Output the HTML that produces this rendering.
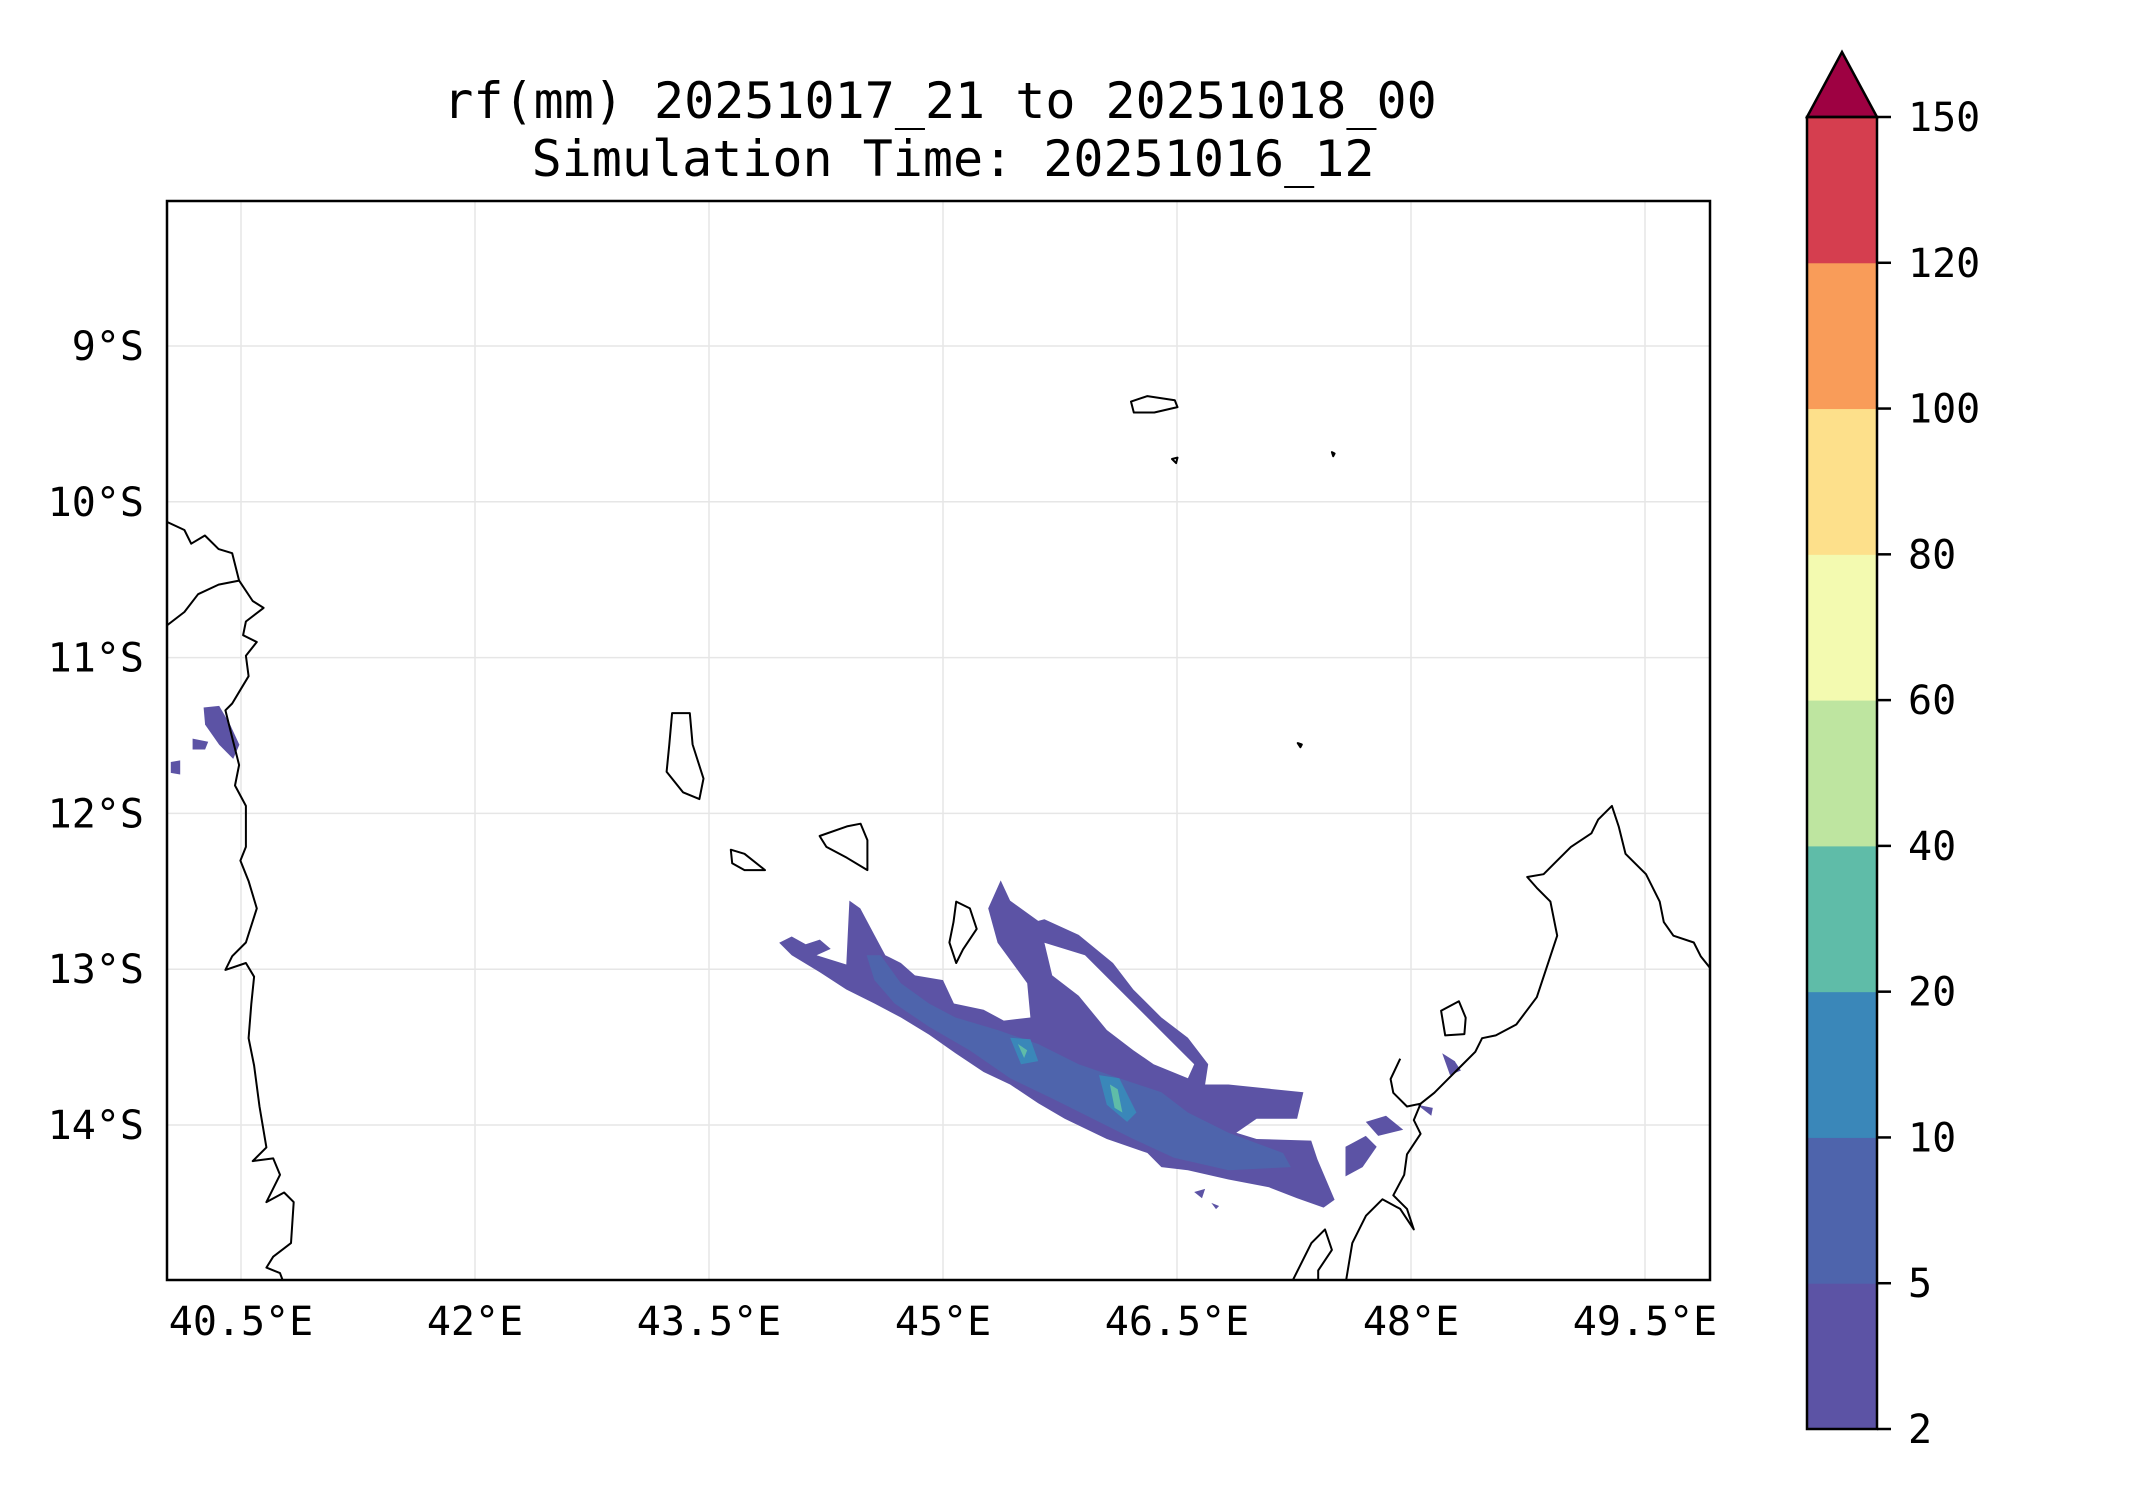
<!DOCTYPE html>
<html><head><meta charset="utf-8"><style>
html,body{margin:0;padding:0;background:#fff;}
svg{display:block;font-family:"DejaVu Sans Mono","Liberation Mono",monospace;}
</style></head><body>
<svg id="fig" width="2142" height="1500" viewBox="0 0 2142 1500" xmlns="http://www.w3.org/2000/svg">
<text x="940" y="118" font-size="50" text-anchor="middle">rf(mm) 20251017_21 to 20251018_00</text>
<text x="953" y="176" font-size="50" text-anchor="middle">Simulation Time: 20251016_12</text>
<defs><clipPath id="mapclip"><rect x="167" y="201" width="1543" height="1079"/></clipPath></defs>
<g id="grid"></g>
<g id="rain" clip-path="url(#mapclip)"></g>
<g id="coast" clip-path="url(#mapclip)"></g>
<rect x="167" y="201" width="1543" height="1079" fill="none" stroke="#000" stroke-width="2.5"/>
<g id="xt"></g>
<g id="yt"></g>
<g id="cbar"></g>
</svg>
<script>
const lonTicks=[40.5,42,43.5,45,46.5,48,49.5];
const lonLabels=["40.5°E","42°E","43.5°E","45°E","46.5°E","48°E","49.5°E"];
const latTicks=[9,10,11,12,13,14];
const latLabels=["9°S","10°S","11°S","12°S","13°S","14°S"];
const cbLevels=[2,5,10,20,40,60,80,100,120,150];
const cbColors=["#5c53a5","#4e64ac","#3a87b9","#5fbca8","#bee5a0","#f3fab0","#fde08b","#f99c59","#d53e4f"];
const overColor="#9e0142";
// rainfall contour polygons [lon, lat(°S)]
const rain5=[
[[43.95,12.83],[44.03,12.79],[44.12,12.84],[44.21,12.81],[44.28,12.87],[44.19,12.91],[44.38,12.97],[44.40,12.56],[44.47,12.61],[44.56,12.78],[44.63,12.91],[44.73,12.96],[44.82,13.04],[45.00,13.07],[45.07,13.22],[45.26,13.26],[45.39,13.33],[45.56,13.31],[45.54,13.09],[45.35,12.83],[45.29,12.61],[45.37,12.43],[45.43,12.56],[45.61,12.69],[45.65,12.68],[45.87,12.78],[46.09,12.96],[46.22,13.13],[46.40,13.31],[46.57,13.44],[46.70,13.61],[46.68,13.74],[46.83,13.74],[47.31,13.79],[47.27,13.96],[47.01,13.96],[46.88,14.05],[47.01,14.09],[47.36,14.10],[47.40,14.22],[47.51,14.48],[47.44,14.53],[47.27,14.47],[47.09,14.40],[46.83,14.35],[46.57,14.29],[46.40,14.27],[46.31,14.18],[46.05,14.09],[45.78,13.96],[45.61,13.86],[45.43,13.74],[45.26,13.66],[45.08,13.54],[44.91,13.42],[44.73,13.31],[44.56,13.22],[44.38,13.13],[44.21,13.02],[44.03,12.91]],
[[40.26,11.32],[40.36,11.31],[40.43,11.43],[40.49,11.56],[40.45,11.65],[40.36,11.56],[40.27,11.43]],
[[40.19,11.52],[40.29,11.54],[40.27,11.59],[40.19,11.59]],
[[40.05,11.67],[40.11,11.66],[40.11,11.75],[40.05,11.74]],
[[47.58,14.14],[47.71,14.07],[47.78,14.14],[47.69,14.27],[47.58,14.33]],
[[47.71,13.98],[47.84,13.94],[47.95,14.03],[47.79,14.07]],
[[48.20,13.54],[48.28,13.59],[48.32,13.65],[48.25,13.68]],
[[48.04,13.87],[48.14,13.89],[48.13,13.94]],
[[46.61,14.43],[46.68,14.41],[46.66,14.47]],
[[46.72,14.50],[46.77,14.52],[46.75,14.54]]
];
const rainHoles=[
[[45.65,12.83],[45.91,12.91],[46.09,13.09],[46.26,13.26],[46.44,13.44],[46.61,13.61],[46.57,13.70],[46.35,13.61],[46.22,13.52],[46.05,13.39],[45.87,13.17],[45.70,13.04]]
];
const rain10=[
[[44.51,12.91],[44.60,12.91],[44.73,13.09],[44.91,13.22],[45.08,13.31],[45.35,13.39],[45.61,13.48],[45.87,13.61],[46.13,13.70],[46.40,13.79],[46.57,13.92],[46.83,14.05],[47.18,14.18],[47.23,14.27],[46.83,14.29],[46.48,14.21],[46.22,14.09],[45.96,13.96],[45.70,13.83],[45.43,13.70],[45.17,13.52],[44.91,13.37],[44.69,13.22],[44.56,13.07]]
];
const rain20=[
[[45.43,13.44],[45.56,13.45],[45.61,13.59],[45.50,13.61]],
[[46.00,13.68],[46.13,13.70],[46.24,13.92],[46.18,13.98],[46.05,13.87]]
];
const rain40=[
[[45.48,13.48],[45.54,13.52],[45.52,13.57]],
[[46.07,13.74],[46.12,13.77],[46.15,13.92],[46.10,13.89]]
];
const rain60=[];
// coastline basemap (reference-space geometry, display units)
const coastLines=[
[[122,382],[135,388],[140,398],[150,392],[160,402],[170,405],[175,425],[185,440],[193,445],[180,455],[178,465],[188,470],[180,480],[182,495],[176,505],[170,515],[165,520],[170,540],[175,560],[172,575],[180,590],[180,620],[176,630],[182,645],[188,665],[180,690],[170,700],[165,710],[180,705],[186,715],[184,735],[182,760],[186,780],[190,810],[195,840],[185,850],[200,848],[205,860],[195,880],[208,873],[215,880],[213,910],[200,920],[195,928],[205,932],[208,940]],
[[122,458],[135,448],[145,435],[160,428],[175,425]],
[[1253,710],[1245,700],[1240,690],[1225,685],[1218,675],[1215,660],[1205,640],[1190,625],[1185,605],[1180,590],[1170,600],[1165,610],[1150,620],[1140,630],[1130,640],[1118,642],[1125,650],[1135,660],[1140,685],[1135,700],[1125,730],[1110,750],[1095,758],[1085,760],[1080,770],[1070,780],[1060,790],[1050,800],[1040,808],[1030,810],[1020,800],[1018,790],[1025,775]],
[[1040,808],[1035,820],[1040,830],[1030,845],[1028,860],[1020,875],[1030,885],[1035,900],[1025,885],[1012,878],[1000,890],[990,910],[985,940]],
[[945,940],[960,910],[970,900],[975,915],[965,930],[965,940]]
];
const islands=[
[[492,522],[505,522],[507,545],[515,570],[512,585],[500,580],[488,565],[490,545]],
[[535,622],[545,625],[560,637],[545,637],[536,632]],
[[600,612],[620,605],[630,603],[635,615],[635,637],[620,628],[605,620]],
[[700,660],[710,665],[715,680],[705,695],[700,705],[695,690],[698,675],[700,660]],
[[1055,740],[1068,733],[1073,745],[1072,757],[1058,758]],
[[828,294],[840,290],[860,293],[862,298],[845,302],[830,302]],
[[858,336],[862,335],[861,339]],[[950,544],[953,545],[952,547]],[[975,331],[977,332],[976,334]]
];
const NS="http://www.w3.org/2000/svg";
const X0=167,X1=1710,Y0=201,Y1=1280;
function xOf(lon){return 241+(lon-40.5)*156;}
function yOf(lat){return 346+(lat-9)*155.8;}
const DS=1.366;
function mk(tag,attrs,parent){const e=document.createElementNS(NS,tag);for(const k in attrs)e.setAttribute(k,attrs[k]);parent.appendChild(e);return e;}
const grid=document.getElementById('grid');
lonTicks.forEach(l=>{const e=mk('line',{x1:xOf(l),x2:xOf(l),y1:Y0,y2:Y1,stroke:'#e6e6e6','stroke-width':1.5},grid);

});
latTicks.forEach(l=>{const e=mk('line',{x1:X0,x2:X1,y1:yOf(l),y2:yOf(l),stroke:'#e6e6e6','stroke-width':1.5},grid);

});
const xt=document.getElementById('xt');
lonTicks.forEach((l,i)=>{const t=mk('text',{x:xOf(l),y:1335,'font-size':40,'text-anchor':'middle'},xt);t.textContent=lonLabels[i];

});
const yt=document.getElementById('yt');
latTicks.forEach((l,i)=>{const t=mk('text',{x:144,y:yOf(l)+14,'font-size':40,'text-anchor':'end'},yt);t.textContent=latLabels[i];

});
const rain=document.getElementById('rain');
function poly(pts,fill,name){const p=mk('polygon',{points:pts.map(q=>xOf(q[0]).toFixed(1)+','+yOf(q[1]).toFixed(1)).join(' '),fill:fill},rain);

}
rain5.forEach(p=>poly(p,cbColors[0],'rain-2-5mm'));
rainHoles.forEach(p=>poly(p,'#ffffff','rain-below-2mm'));
rain10.forEach(p=>poly(p,cbColors[1],'rain-5-10mm'));
rain20.forEach(p=>poly(p,cbColors[2],'rain-10-20mm'));
rain40.forEach(p=>poly(p,cbColors[3],'rain-20-40mm'));
rain60.forEach(p=>poly(p,cbColors[4],'rain-40-60mm'));
const coast=document.getElementById('coast');
coastLines.forEach(c=>{const e=mk('polyline',{points:c.map(q=>(q[0]*DS).toFixed(1)+','+(q[1]*DS).toFixed(1)).join(' '),fill:'none',stroke:'#000','stroke-width':2,'stroke-linejoin':'round'},coast);

});
islands.forEach(c=>{const e=mk('polygon',{points:c.map(q=>(q[0]*DS).toFixed(1)+','+(q[1]*DS).toFixed(1)).join(' '),fill:'none',stroke:'#000','stroke-width':2,'stroke-linejoin':'round'},coast);

});
const cb=document.getElementById('cbar');
const CX0=1807,CX1=1877,CT=117,CB=1429,TIP=52;
const nb=cbLevels.length-1,bh=(CB-CT)/nb;
function cy(i){return CB-i*bh;}
cbColors.forEach((c,i)=>{const r=mk('rect',{x:CX0,y:cy(i+1),width:CX1-CX0,height:bh+0.5,fill:c},cb);

});
const tri=mk('polygon',{points:`${CX0},${CT} ${(CX0+CX1)/2},${TIP} ${CX1},${CT}`,fill:overColor,stroke:'#000','stroke-width':2.5,'stroke-linejoin':'miter'},cb);


const fr=mk('rect',{x:CX0,y:CT,width:CX1-CX0,height:CB-CT,fill:'none',stroke:'#000','stroke-width':2.5},cb);


cbLevels.forEach((v,i)=>{const l=mk('line',{x1:CX1,x2:CX1+14,y1:cy(i),y2:cy(i),stroke:'#000','stroke-width':2.5},cb);


const t=mk('text',{x:1908,y:cy(i)+14,'font-size':40},cb);t.textContent=String(v);

});
</script>
</body></html>
